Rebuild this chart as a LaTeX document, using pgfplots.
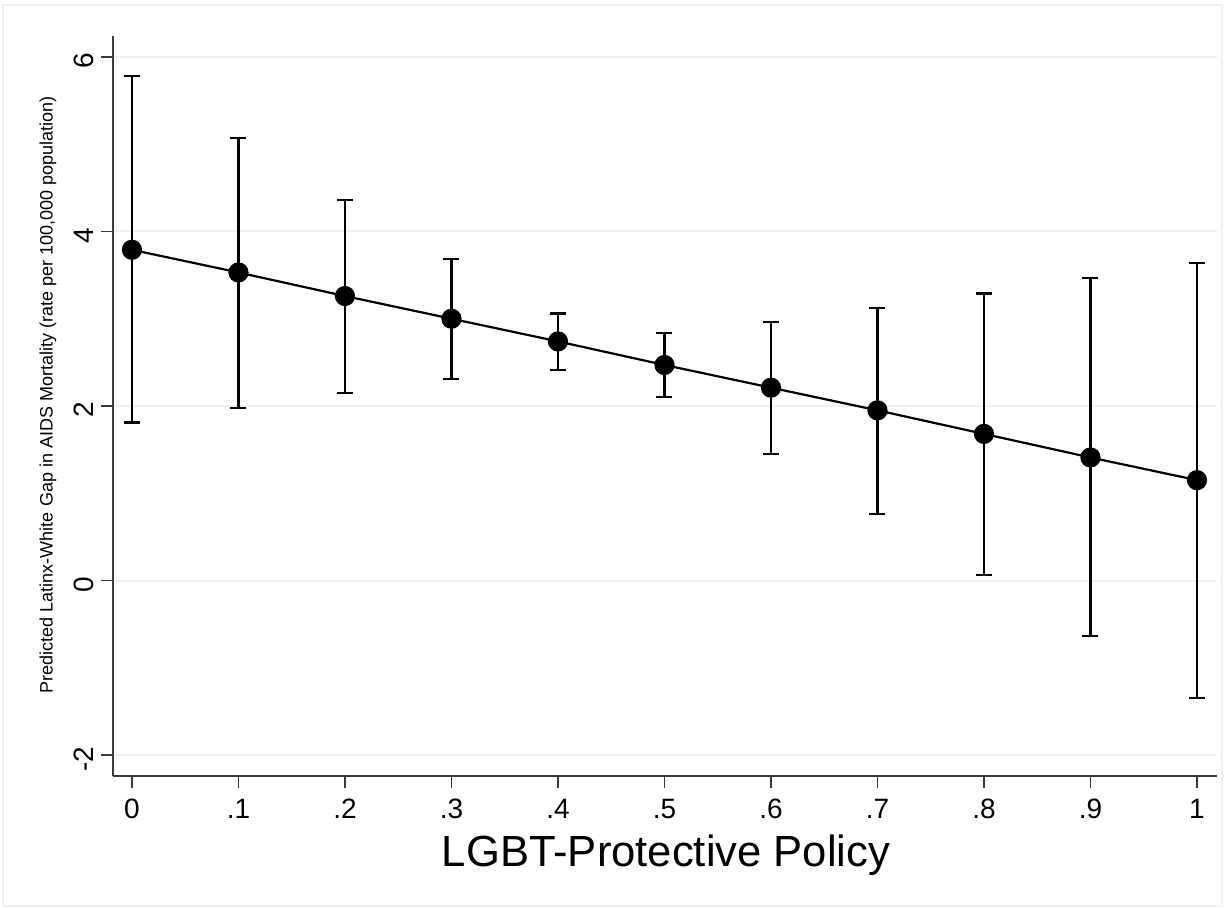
\documentclass[border=0pt]{standalone}
\usepackage{pgfplots}
\pgfplotsset{compat=1.18}
\usepackage{fontspec}
\setmainfont{Liberation Sans}
\definecolor{gridc}{HTML}{EAF2F3}
\definecolor{axc}{HTML}{3A3A3A}
\begin{document}
\begin{tikzpicture}
\path[use as bounding box] (0,0) rectangle (612.5pt,454.5pt);
\draw[gridc, line width=0.8pt] (1.5pt,1.5pt) rectangle (611pt,452pt);
\begin{axis}[
  at={(56.5pt,66.5pt)}, anchor=south west,
  scale only axis, width=552pt, height=370pt,
  xmin=-0.0178, xmax=1.0188, ymin=-2.24, ymax=6.24,
  axis x line*=bottom, axis y line*=left,
  axis line style={axc, line width=0.9pt, -},
  xtick={0,0.1,0.2,0.3,0.4,0.5,0.6,0.7,0.8,0.9,1},
  xticklabels={0,.1,.2,.3,.4,.5,.6,.7,.8,.9,1},
  ytick={-2,0,2,4,6},
  yticklabels={-2,0,2,4,6},
  tick align=outside,
  major tick length=6pt,
  tick style={axc, line width=0.9pt},
  ymajorgrids, grid style={gridc, line width=1pt},
  tick label style={font=\fontsize{14}{16}\selectfont},
  yticklabel style={rotate=90, anchor=south, xshift=-2pt},
  xticklabel style={yshift=-2pt},
  xlabel={LGBT-Protective Policy},
  xlabel style={font=\fontsize{21.8}{24}\selectfont, at={(axis description cs:0.501,-0.107)}, anchor=center},
  ylabel={Predicted Latinx-White Gap in AIDS Mortality (rate per 100,000 population)},
  ylabel style={font=\fontsize{9}{10}\selectfont, at={(axis description cs:-0.0589,0.515)}, anchor=center, rotate=0},
  clip=false,
]
\addplot[black, line width=1.1pt, mark=*, mark size=4.5pt, mark options={fill=black},
  error bars/.cd, y dir=both, y explicit,
  error bar style={black, line width=1.1pt},
  error mark options={rotate=90, mark size=4pt, line width=1.1pt, black}]
coordinates {
(0,3.79) += (0,1.99) -= (0,1.98)
(0.1,3.53) += (0,1.54) -= (0,1.55)
(0.2,3.26) += (0,1.10) -= (0,1.11)
(0.3,3.00) += (0,0.68) -= (0,0.69)
(0.4,2.74) += (0,0.32) -= (0,0.33)
(0.5,2.47) += (0,0.37) -= (0,0.37)
(0.6,2.21) += (0,0.75) -= (0,0.76)
(0.7,1.95) += (0,1.17) -= (0,1.19)
(0.8,1.68) += (0,1.61) -= (0,1.62)
(0.9,1.41) += (0,2.06) -= (0,2.05)
(1,1.15) += (0,2.49) -= (0,2.50)
};
\end{axis}
\end{tikzpicture}
\end{document}
